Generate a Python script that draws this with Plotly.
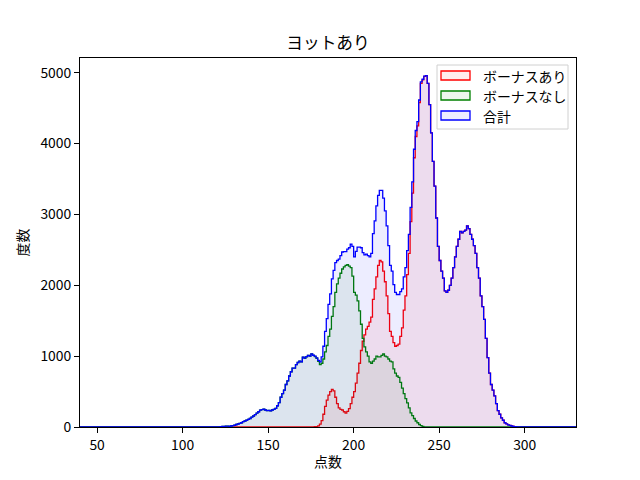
import plotly.graph_objects as go

# ---- data (counts per 1-point bin) ----
bin_start = 40
bin_end = 330

green_start = 120
green_counts = [
    0, 0, 5, 10, 10, 12, 12, 10, 14, 18,            # 120-129
    25, 35, 42, 50, 60, 75, 85, 95, 108, 120,       # 130-139
    140, 155, 175, 195, 215, 238, 245, 252, 240, 232,   # 140-149
    236, 228, 240, 248, 262, 300, 345, 420, 470, 520,   # 150-159
    600, 650, 720, 780, 830, 830, 880, 910, 930, 920,   # 160-169
    985, 970, 990, 1010, 1000, 1030, 1010, 995, 970, 925,  # 170-179
    880, 900, 960, 1060, 1150, 1280, 1380, 1560, 1700, 1900,  # 180-189
    2020, 2100, 2170, 2230, 2260, 2280, 2290, 2270, 2250, 2130,  # 190-199
    1900, 1860, 1780, 1640, 1450, 1250, 1130, 1060, 1000, 920,  # 200-209
    900, 930, 960, 1000, 990, 990, 1010, 1030, 1000, 990,  # 210-219
    960, 930, 920, 820, 760, 720, 700, 630, 550, 470,  # 220-229
    400, 340, 270, 200, 160, 120, 85, 60, 35, 20,  # 230-239
    8, 3, 0,  # 240-242
]

red_start = 168
red_counts = [
    0, 0, 1, 1, 2, 2, 2, 3, 3, 5,  # 168-177
    5, 15, 40, 90, 180, 290, 380, 450, 500, 530,  # 178-187
    510, 420, 330, 270, 250, 240, 215, 195, 220, 260,  # 188-197
    330, 420, 500, 620, 760, 900, 1080, 1210, 1300, 1380,  # 198-207
    1420, 1480, 1550, 1800, 1950, 2120, 2280, 2350, 2330, 2200,  # 208-217
    2050, 1850, 1600, 1350, 1280, 1190, 1140, 1150, 1170, 1280,  # 218-227
    1400, 1650, 1850, 2150, 2450, 2900, 3300, 3800, 4100, 4250,  # 228-237
    4580, 4850, 4900, 4950, 4960, 4850, 4550, 4150, 3750, 3400,  # 238-247
    2950, 2550, 2350, 2200, 2100, 1920, 1900, 1930, 2000, 2100,  # 248-257
    2250, 2400, 2550, 2650, 2760, 2740, 2760, 2780, 2840, 2800,  # 258-267
    2720, 2650, 2560, 2450, 2250, 2100, 1850, 1700, 1520, 1250,  # 268-277
    980, 760, 600, 520, 440, 330, 230, 180, 130, 95,  # 278-287
    60, 45, 30, 22, 14, 8, 5, 2, 0,  # 288-296
]

series_names = ["ボーナスあり", "ボーナスなし", "合計"]
series_colors = ["red", "green", "blue"]
fill_colors = ["rgba(255,0,0,0.07)", "rgba(0,128,0,0.07)", "rgba(0,0,255,0.07)"]

title_text = "ヨットあり"
x_label = "点数"
y_label = "度数"
x_ticks = [50, 100, 150, 200, 250, 300]
y_ticks = [0, 1000, 2000, 3000, 4000, 5000]

# ---- build full-range histograms ----
edges = list(range(bin_start, bin_end + 1))
nbins = len(edges) - 1


def full(start, counts):
    arr = [0] * nbins
    for i, c in enumerate(counts):
        k = start + i - bin_start
        if 0 <= k < nbins:
            arr[k] = c
    return arr


red_full = full(red_start, red_counts)
green_full = full(green_start, green_counts)
total_full = [r + g for r, g in zip(red_full, green_full)]

FONT = "Noto Sans CJK JP"
fig = go.Figure()

for name, col, fc, counts in zip(series_names, series_colors, fill_colors,
                                 [red_full, green_full, total_full]):
    xs = edges[:-1] + [edges[-1]]
    ys = counts + [counts[-1]]
    fig.add_trace(go.Scatter(
        x=xs, y=ys, mode="lines", line=dict(color=col, width=1.3, shape="hv"),
        fill="tozeroy", fillcolor=fc, name=name, showlegend=False,
        hoverinfo="skip",
    ))

ymax = max(total_full) * 1.05

fig.update_layout(
    width=640, height=480,
    margin=dict(l=72, r=72, t=50, b=61),
    paper_bgcolor="white", plot_bgcolor="white",
    font=dict(family=FONT, size=13.9, color="black"),
    showlegend=False,
    title=dict(text=title_text, x=0.5, xanchor="center", y=1 - 35 / 480,
               yanchor="middle", font=dict(size=16.7, family=FONT, color="black")),
)
fig.update_xaxes(
    range=[bin_start, bin_end], tickvals=x_ticks, ticks="outside", ticklen=5,
    tickcolor="black", showline=True, linecolor="black", linewidth=1, mirror=True,
    showgrid=False, zeroline=False,
    title=dict(text=x_label, standoff=4, font=dict(size=13.9)),
)
fig.update_yaxes(
    range=[0, ymax], tickvals=y_ticks, ticks="outside", ticklen=5,
    tickcolor="black", showline=True, linecolor="black", linewidth=1, mirror=True,
    showgrid=False, zeroline=False,
    title=dict(text=y_label, standoff=8, font=dict(size=13.9)),
)

# ---- manual legend (matplotlib style) ----
def px2x(px):
    return (px - 80) / 496


def py2y(py):
    return (427 - py) / 369


shapes = [dict(type="rect", xref="paper", yref="paper",
               x0=px2x(437), x1=px2x(568), y0=py2y(129), y1=py2y(65),
               line=dict(color="#d0d0d0", width=1), fillcolor="rgba(255,255,255,0.8)",
               layer="above")]
annotations = []
row_centers = [75.5, 95.5, 115.5]
for name, col, fc, cy in zip(series_names, series_colors, fill_colors, row_centers):
    shapes.append(dict(type="rect", xref="paper", yref="paper",
                       x0=px2x(441), x1=px2x(470), y0=py2y(cy + 4.5), y1=py2y(cy - 4.5),
                       line=dict(color=col, width=1.3), fillcolor=fc, layer="above"))
    annotations.append(dict(text=name, xref="paper", yref="paper", x=px2x(481),
                            y=py2y(cy), xanchor="left", yanchor="middle",
                            showarrow=False, font=dict(size=13.9, family=FONT, color="black")))

fig.update_layout(shapes=shapes, annotations=annotations)

fig.write_html("out.html")
